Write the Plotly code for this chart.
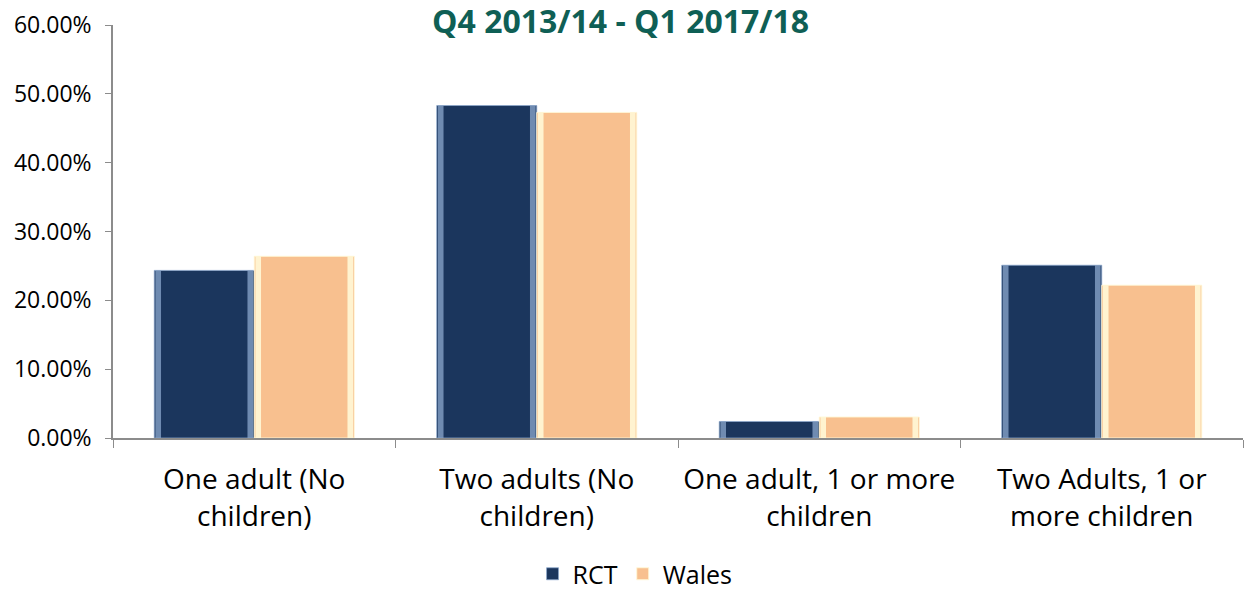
import plotly.graph_objects as go

# Household composition shares, Q4 2013/14 - Q1 2017/18
categories = ["One adult (No children)", "Two adults (No children)",
              "One adult, 1 or more children", "Two Adults, 1 or more children"]
tick_labels = ["One adult (No<br>children)", "Two adults (No<br>children)",
               "One adult, 1 or more<br>children", "Two Adults, 1 or<br>more children"]
rct = [0.2435, 0.4830, 0.0240, 0.2510]
wales = [0.2640, 0.4730, 0.0305, 0.2220]
y_ticks = [0, 0.1, 0.2, 0.3, 0.4, 0.5, 0.6]

FONT = "Open Sans"
BAR_W = 0.354
EDGE_W = 0.02

series = [
    ("RCT", rct, "#1b365d", "rgba(140,168,205,0.75)", -BAR_W),
    ("Wales", wales, "#f8c08f", "rgba(255,248,215,0.9)", 0.0),
]

fig = go.Figure()
for name, vals, color, edge, off in series:
    fig.add_trace(go.Bar(
        name=name, x=categories, y=vals, width=BAR_W, offset=off,
        marker=dict(color=color, line=dict(color=edge, width=1)),
        hovertemplate="%{x}: %{y:.2%}<extra>" + name + "</extra>",
    ))
    # bevel-like light strips along the left and right sides of each bar
    for strip_off in (off + 0.004, off + BAR_W - EDGE_W - 0.004):
        fig.add_trace(go.Bar(
            x=categories, y=vals, width=EDGE_W, offset=strip_off,
            marker=dict(color=edge, line=dict(width=0)),
            showlegend=False, hoverinfo="skip",
        ))

fig.update_layout(
    width=1245, height=592,
    barmode="overlay",
    plot_bgcolor="white", paper_bgcolor="white",
    margin=dict(l=113, r=2, t=25, b=154, autoexpand=False),
    font=dict(family=FONT, color="#000000"),
    title=dict(text="<b>Q4 2013/14 - Q1 2017/18</b>", x=0.4985, xanchor="center",
               y=1 - 22 / 592, yanchor="middle",
               font=dict(family=FONT, size=32, color="#0f5f55")),
    legend=dict(orientation="h", x=0.462, xanchor="center", y=-136 / 413, yanchor="middle",
                font=dict(family=FONT, size=25), itemwidth=30, traceorder="normal",
                borderwidth=0, bgcolor="rgba(0,0,0,0)"),
    xaxis=dict(
        type="category", tickmode="array", tickvals=categories, ticktext=tick_labels,
        tickson="boundaries", ticks="outside", ticklen=8, tickcolor="#8c8c8c",
        showline=True, linecolor="#8c8c8c", linewidth=1.5,
        tickfont=dict(family=FONT, size=28, color="#000000"),
        ticklabelstandoff=16, automargin=False,
        showgrid=False, fixedrange=True,
    ),
    yaxis=dict(
        range=[0, 0.6], tickvals=y_ticks, tickformat=".2%",
        ticks="outside", ticklen=6, tickcolor="#8c8c8c",
        showline=True, linecolor="#8c8c8c", linewidth=1.5,
        showgrid=False, zeroline=False, automargin=False,
        ticklabelstandoff=9,
        tickfont=dict(family=FONT, size=23, color="#000000"),
    ),
)

fig.write_html("out.html")
